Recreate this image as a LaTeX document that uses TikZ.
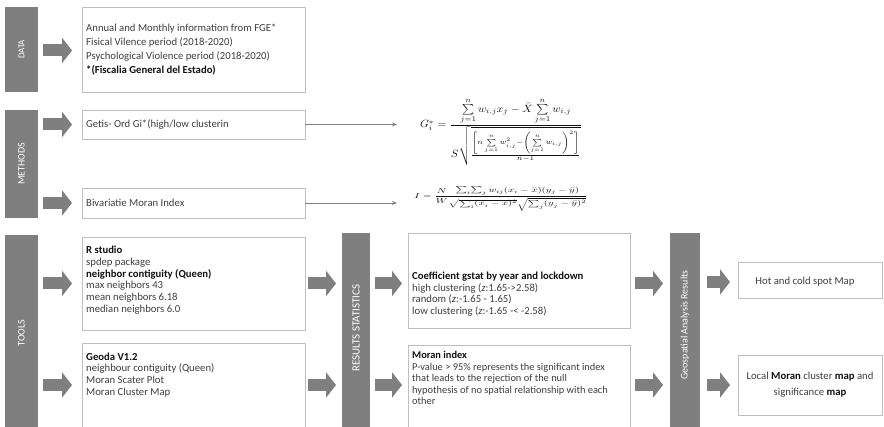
\documentclass[tikz,border=0pt]{standalone}
\usepackage{amsmath}
\usepackage[no-math]{fontspec}
\setmainfont{Carlito}
\usepackage{graphicx}
\usetikzlibrary{arrows.meta,calc}
\definecolor{barc}{HTML}{7F7F7F}
\definecolor{boxc}{HTML}{BFBFBF}
\definecolor{txt}{HTML}{3F3F3F}
\definecolor{bld}{HTML}{111111}
\definecolor{frm}{HTML}{111111}
\newcommand{\bd}[1]{{\bfseries\color{bld}#1}}
\tikzset{
  bar/.style={fill=barc, draw=none, anchor=north west, inner sep=0pt, outer sep=0pt},
  box/.style={draw=boxc, line width=0.8pt, fill=white, anchor=north west, inner sep=0pt, outer sep=0pt},
  blockarrow/.style={draw=barc, line width=12pt, -{Triangle[length=10pt,width=25pt]}},
  thinarrow/.style={draw=barc, line width=0.6pt, -{Stealth[length=5pt,width=4pt]}},
  bartext/.style={text=white, rotate=90, font=\fontsize{10}{11}\selectfont},
  txtnode/.style={anchor=north west, align=left, inner sep=0pt, text=txt, font=\fontsize{10.7}{12}\selectfont},
}
\begin{document}
\begin{tikzpicture}[x=1pt,y=-1pt]
\useasboundingbox (0,0) rectangle (884,427);
\clip (0,0) rectangle (884,427);
% bars
\node[bar, minimum width=33pt, minimum height=85pt] (databar) at (5,7) {};
\node[bar, minimum width=33pt, minimum height=108pt] (methbar) at (5,110) {};
\node[bar, minimum width=33pt, minimum height=195pt] (toolbar) at (5,235) {};
\node[bar, minimum width=28pt, minimum height=197pt] (resbar) at (342,233) {};
\node[bar, minimum width=30pt, minimum height=197pt] (geobar) at (670,233) {};
\node[bartext, font=\fontsize{9}{10}\selectfont] (datalbl) at (databar.center) {DATA};
\node[bartext] (methlbl) at (methbar.center) {METHODS};
\node[bartext] (toollbl) at (21.5,333) {TOOLS};
\node[bartext, font=\fontsize{11}{12}\selectfont] (reslbl) at (356,328) {RESULTS STATISTICS};
\node[bartext] (geolbl) at (685,325) {Geospatial Analysis Results};
% boxes
\node[box, minimum width=223pt, minimum height=85pt] (databox) at (82,7) {};
\node[box, minimum width=223pt, minimum height=29pt] (getis) at (82,110) {};
\node[box, minimum width=223pt, minimum height=30pt] (bivar) at (82,188) {};
\node[box, minimum width=223pt, minimum height=93pt] (rstudio) at (82,237) {};
\node[box, minimum width=223pt, minimum height=90pt] (geoda) at (82,343) {};
\node[box, minimum width=222pt, minimum height=95pt] (coef) at (408,233) {};
\node[box, minimum width=222pt, minimum height=90pt] (moran) at (408,345) {};
\node[box, minimum width=144pt, minimum height=36pt] (hot) at (738,262) {};
\node[box, minimum width=144pt, minimum height=60pt] (localm) at (738,355) {};
% texts
\node[txtnode, font=\fontsize{10.7}{13.8}\selectfont] (datatxt) at ($(databox.north west)+(4,17)$) {Annual and Monthly information from FGE*\\Fisical Vilence period (2018-2020)\\Psychological Violence period (2018-2020)\\\bd{*(Fiscalia General del Estado)}};
\node[txtnode, anchor=west] (getistxt) at ($(getis.west)+(4,0)$) {Getis- Ord Gi*(high/low clusterin};
\node[txtnode, anchor=west] (bivartxt) at ($(bivar.west)+(4,0)$) {Bivariatie Moran Index};
\node[txtnode, font=\fontsize{10.7}{11.9}\selectfont] (rtxt) at ($(rstudio.north west)+(4,8.5)$) {\bd{R studio}\\spdep package\\\bd{neighbor contiguity (Queen)}\\max neighbors 43\\mean neighbors 6.18\\median neighbors 6.0};
\node[txtnode, font=\fontsize{10.7}{11.7}\selectfont] (gtxt) at ($(geoda.north west)+(4,9.5)$) {\bd{Geoda V1.2}\\neighbour contiguity (Queen)\\Moran Scater Plot\\Moran Cluster Map};
\node[txtnode, font=\fontsize{10.7}{11.8}\selectfont] (ctxt) at ($(coef.north west)+(4,38.5)$) {\bd{Coefficient gstat by year and lockdown}\\high clustering (\textit{z}:1.65->2.58)\\random (\textit{z}:-1.65 - 1.65)\\low clustering (\textit{z}:-1.65 -< -2.58)};
\node[txtnode, font=\fontsize{10.4}{11.6}\selectfont] (mtxt) at ($(moran.north west)+(4,6)$) {\bd{Moran index}\\P-value > 95\% represents the significant index\\that leads to the rejection of the null\\hypothesis of no spatial relationship with each\\other};
\node[txtnode, anchor=center, align=center] (hottxt) at ($(hot.center)+(-5,2)$) {Hot and cold spot Map};
\node[txtnode, anchor=center, align=center, font=\fontsize{10.7}{16}\selectfont] (loctxt) at (localm.center) {Local \bd{Moran} cluster \bd{map} and\\significance \bd{map}};
% formulas
\node[inner sep=0pt, text=frm] (gform) at (501,131.5) {\resizebox*{162pt}{67pt}{$G_i^{*}=\dfrac{\sum\limits_{j=1}^{n} w_{i,j}x_j-\bar{X}\sum\limits_{j=1}^{n} w_{i,j}}{S\sqrt{\tfrac{\left[n\sum\limits_{j=1}^{n} w_{i,j}^{2}-\left(\sum\limits_{j=1}^{n} w_{i,j}\right)^{2}\right]}{n-1}}}$}};
\node[inner sep=0pt, text=frm] (iform) at (501,199) {\resizebox*{173pt}{24pt}{$I=\dfrac{N}{W}\!\dfrac{\sum_i\!\sum_j w_{ij}(x_i-\bar{x})(y_j-\bar{y})}{\sqrt{\sum_i (x_i-\bar{x})^2}\sqrt{\sum_j (y_j-\bar{y})^2}}$}};
\coordinate (gend) at (397,124.5);
\coordinate (iend) at (397,203);
\draw[thinarrow] (getis.east) -- (gend);
\draw[thinarrow] (bivar.east) -- (iend);
% block arrows
\draw[blockarrow] ($(databar.east |- databox.west)+(5,1)$) -- ($(databox.west)+(-10,1)$);
\draw[blockarrow] ($(methbar.east |- getis.west)+(5,0)$) -- ($(getis.west)+(-10,0)$);
\draw[blockarrow] ($(methbar.east |- bivar.west)+(5,0)$) -- ($(bivar.west)+(-10,0)$);
\draw[blockarrow] ($(toolbar.east |- rstudio.west)+(5,0)$) -- ($(rstudio.west)+(-10,0)$);
\draw[blockarrow] ($(toolbar.east |- 0,385)+(5,0)$) -- ($(geoda.west |- 0,385)+(-10,0)$);
\draw[blockarrow] ($(rstudio.east)+(3,0)$) -- ($(resbar.west |- rstudio.east)+(-6,0)$);
\draw[blockarrow] ($(geoda.east |- 0,385)+(3,0)$) -- ($(resbar.west |- 0,385)+(-6,0)$);
\draw[blockarrow] ($(resbar.east |- rstudio.east)+(5,0)$) -- ($(coef.west |- rstudio.east)+(-6,0)$);
\draw[blockarrow] ($(resbar.east |- 0,385)+(5,0)$) -- ($(moran.west |- 0,385)+(-6,0)$);
\draw[blockarrow] ($(coef.east |- rstudio.east)+(5,0)$) -- ($(geobar.west |- rstudio.east)+(-7,0)$);
\draw[blockarrow] ($(moran.east |- 0,385)+(5,0)$) -- ($(geobar.west |- 0,385)+(-7,0)$);
\draw[blockarrow] ($(geobar.east |- 0,282)+(7,0)$) -- ($(hot.west |- 0,282)+(-8,0)$);
\draw[blockarrow] ($(geobar.east |- 0,385)+(7,0)$) -- ($(localm.west |- 0,385)+(-8,0)$);
\end{tikzpicture}
\end{document}
